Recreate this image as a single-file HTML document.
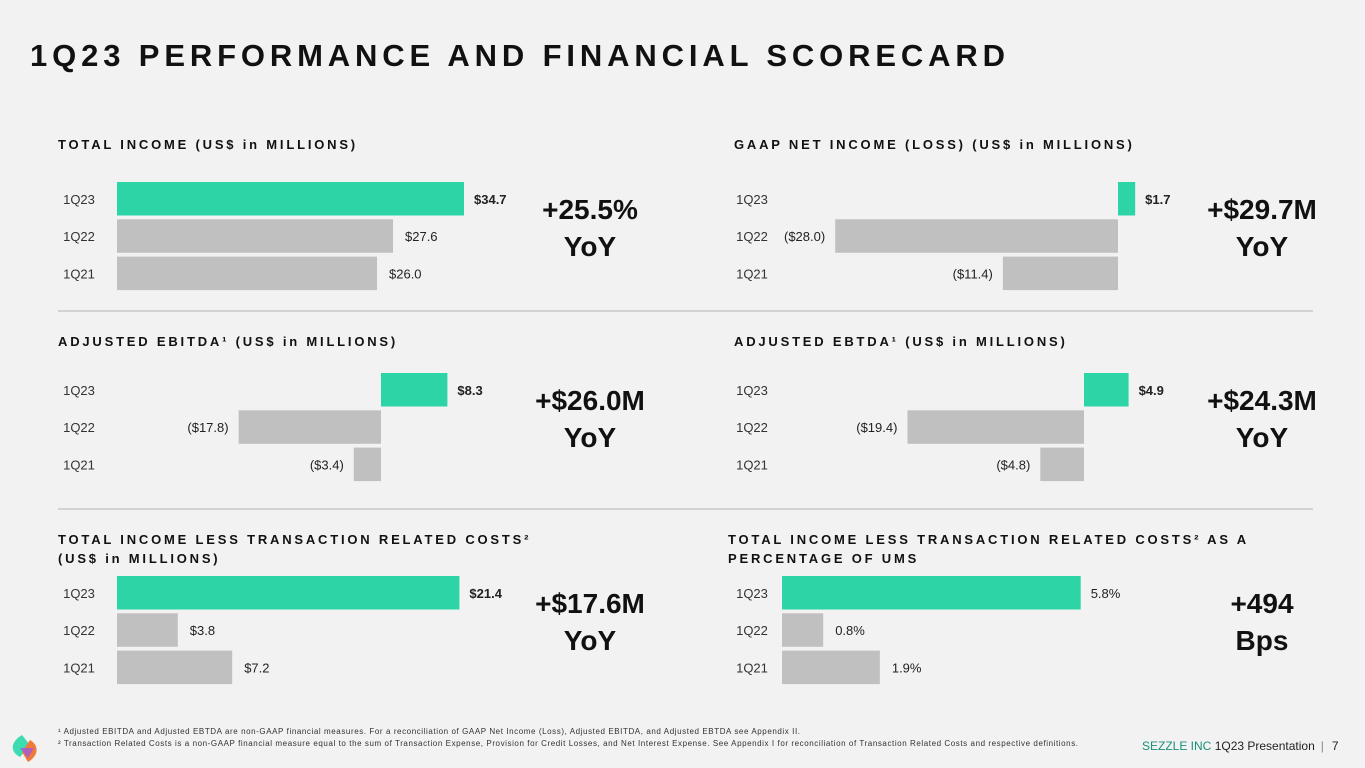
<!DOCTYPE html>
<html><head><meta charset="utf-8"><style>
body{margin:0;width:1365px;height:768px;background:#f2f2f2;overflow:hidden;font-family:"Liberation Sans",sans-serif}
svg{position:absolute;left:0;top:0}
</style></head><body>
<svg id="s" width="1365" height="768" xmlns="http://www.w3.org/2000/svg">
<text x="30" y="66" font-size="31" font-weight="bold" letter-spacing="5" textLength="980" fill="#111">1Q23 PERFORMANCE AND FINANCIAL SCORECARD</text>
<line x1="58" y1="311" x2="1313" y2="311" stroke="#d2d2d2" stroke-width="2"/>
<line x1="58" y1="509" x2="1313" y2="509" stroke="#d2d2d2" stroke-width="2"/>
<g>
<path d="M22 735 C10 742 10 752 20 757 L30 745 Z" fill="#3ddbb0"/>
<path d="M30 740 C40 746 38 756 28 762 L22 752 Z" fill="#f07a3a"/>
<path d="M20 748 L34 748 L28 758 Z" fill="#a05ad8" opacity="0.8"/>
<text x="58" y="734" font-size="8" textLength="742" fill="#333">¹ Adjusted EBITDA and Adjusted EBTDA are non-GAAP financial measures. For a reconciliation of GAAP Net Income (Loss), Adjusted EBITDA, and Adjusted EBTDA see Appendix II.</text>
<text x="58" y="746" font-size="8" textLength="1020" fill="#333">² Transaction Related Costs is a non-GAAP financial measure equal to the sum of Transaction Expense, Provision for Credit Losses, and Net Interest Expense. See Appendix I for reconciliation of Transaction Related Costs and respective definitions.</text>
<text x="1142" y="750" font-size="12" fill="#1a8f7a">SEZZLE INC <tspan fill="#222">1Q23 Presentation</tspan><tspan fill="#888" dx="6">|</tspan><tspan fill="#222" dx="8">7</tspan></text>
</g>
</svg>
<script>
const categories=["1Q23","1Q22","1Q21"];
const totalIncome=[34.7,27.6,26.0];
const gaapNetIncome=[1.7,-28.0,-11.4];
const adjEbitda=[8.3,-17.8,-3.4];
const adjEbtda=[4.9,-19.4,-4.8];
const incomeLessTRC=[21.4,3.8,7.2];
const incomeLessTRCPct=[5.8,0.8,1.9];
const valueLabels1=["$34.7","$27.6","$26.0"];
const valueLabels2=["$1.7","($28.0)","($11.4)"];
const valueLabels3=["$8.3","($17.8)","($3.4)"];
const valueLabels4=["$4.9","($19.4)","($4.8)"];
const valueLabels5=["$21.4","$3.8","$7.2"];
const valueLabels6=["5.8%","0.8%","1.9%"];
const NS="http://www.w3.org/2000/svg",svg=document.getElementById('s');
function el(t,a,txt){const e=document.createElementNS(NS,t);for(const k in a)e.setAttribute(k,a[k]);if(txt!==undefined)e.textContent=txt;svg.appendChild(e);return e;}
function panel(o){
  const {name,title,x0,scale,top,catX,vals,labels,bigX,big1,big2,lx,boldFirst}=o;
  const xs=v=>x0+v*scale;
  title.forEach((t,i)=>{const e=el('text',{x:lx,y:o.ty+i*19,'font-size':13,'font-weight':'bold','letter-spacing':'2.8',fill:'#111'},t);
    
    });
  vals.forEach((v,i)=>{
    const y=top+i*37.3,h=33.5;
    const a=Math.min(xs(0),xs(v)),w=Math.abs(xs(v)-xs(0));
    const r=el('rect',{x:a,y:y,width:w,height:h,fill:i==0?'#2dd4a6':'#c0c0c0'});
    
    
    const c=el('text',{x:catX,y:y+h/2+5,'font-size':13,'text-anchor':'middle',fill:'#333'},categories[i]);
    
    
    const neg=v<0;
    const t=el('text',{x:neg?a-10:a+w+(i==0?10:12),y:y+h/2+5,'font-size':13,'font-weight':(i==0&&boldFirst!==false)?'bold':'normal','text-anchor':neg?'end':'start',fill:'#222'},labels[i]);
    
    
  });
  const b=el('text',{x:bigX,y:top+37,'font-size':28,'font-weight':'bold','text-anchor':'middle',fill:'#111'},big1);
  
  
  const b2=el('text',{x:bigX,y:top+74,'font-size':28,'font-weight':'bold','text-anchor':'middle',fill:'#111'},big2);
  
  
}
panel({name:'total-income',title:['TOTAL INCOME (US$ in MILLIONS)'],ty:149,lx:58,x0:117,scale:10,top:182,catX:79,vals:totalIncome,labels:valueLabels1,bigX:590,big1:'+25.5%',big2:'YoY'});
panel({name:'gaap-net-income',title:['GAAP NET INCOME (LOSS) (US$ in MILLIONS)'],ty:149,lx:734,x0:1118,scale:10.1,top:182,catX:752,vals:gaapNetIncome,labels:valueLabels2,bigX:1262,big1:'+$29.7M',big2:'YoY'});
panel({name:'adjusted-ebitda',title:['ADJUSTED EBITDA¹ (US$ in MILLIONS)'],ty:346,lx:58,x0:381,scale:8,top:373,catX:79,vals:adjEbitda,labels:valueLabels3,bigX:590,big1:'+$26.0M',big2:'YoY'});
panel({name:'adjusted-ebtda',title:['ADJUSTED EBTDA¹ (US$ in MILLIONS)'],ty:346,lx:734,x0:1084,scale:9.1,top:373,catX:752,vals:adjEbtda,labels:valueLabels4,bigX:1262,big1:'+$24.3M',big2:'YoY'});
panel({name:'income-less-trc',title:['TOTAL INCOME LESS TRANSACTION RELATED COSTS²','(US$ in MILLIONS)'],ty:544,lx:58,x0:117,scale:16,top:576,catX:79,vals:incomeLessTRC,labels:valueLabels5,bigX:590,big1:'+$17.6M',big2:'YoY'});
panel({name:'income-less-trc-pct',title:['TOTAL INCOME LESS TRANSACTION RELATED COSTS² AS A','PERCENTAGE OF UMS'],ty:544,lx:728,x0:782,scale:51.5,top:576,catX:752,vals:incomeLessTRCPct,labels:valueLabels6,bigX:1262,big1:'+494',big2:'Bps',boldFirst:false});
</script>
</body></html>
